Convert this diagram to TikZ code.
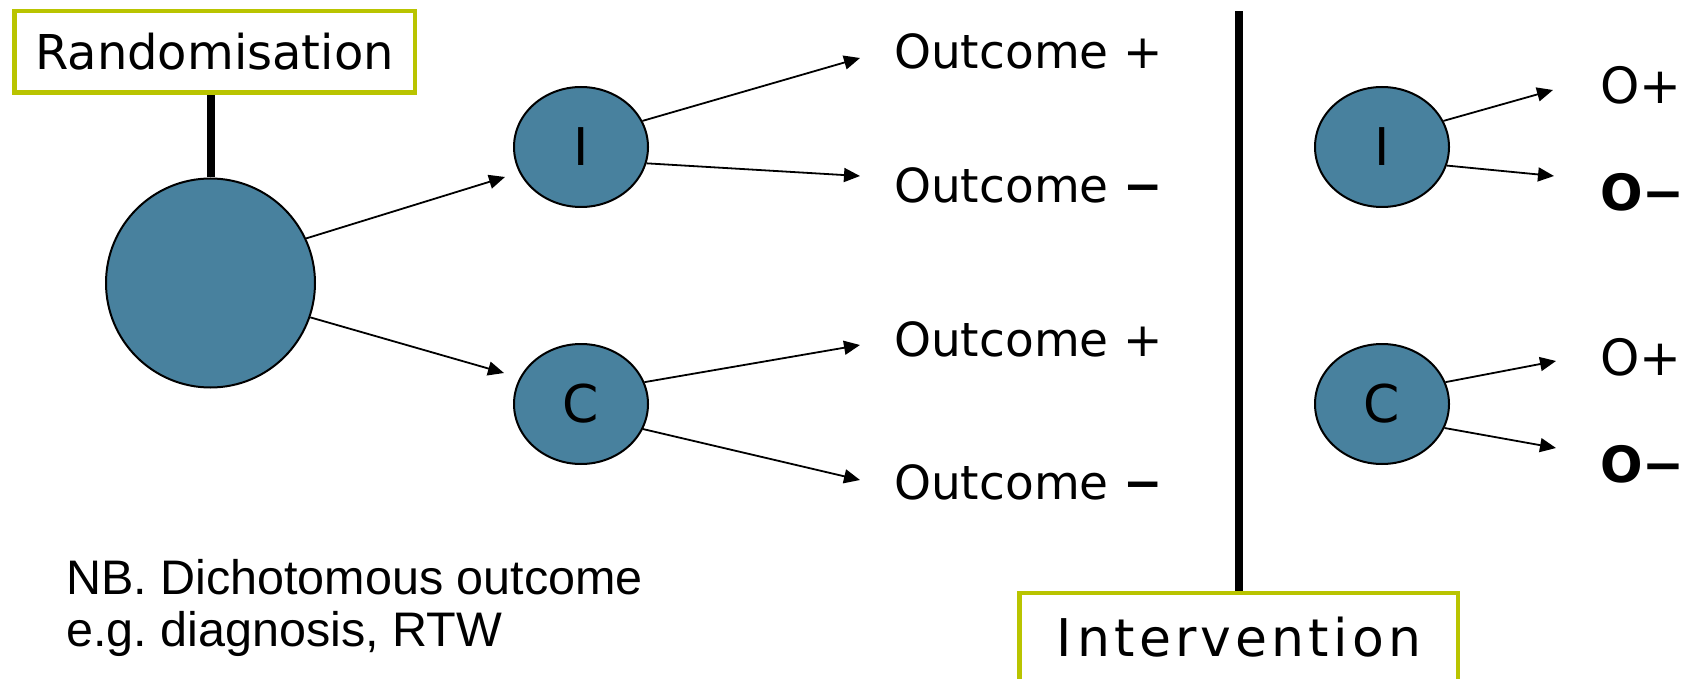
\documentclass[tikz,border=0pt]{standalone}
\usepackage{fontspec}
\setmainfont{DejaVu Sans}
\newfontfamily\notefont{Liberation Sans}
\newfontfamily\spacedfont[LetterSpace=8]{DejaVu Sans}
\usetikzlibrary{arrows.meta,shapes.geometric}
\definecolor{groupblue}{RGB}{72,129,158}
\definecolor{labelgreen}{RGB}{185,196,0}
\newcommand{\fsLabel}{\fontsize{48pt}{56pt}\selectfont}
\newcommand{\fsOut}{\fontsize{47pt}{56pt}\selectfont}
\newcommand{\fsShort}{\fontsize{50pt}{58pt}\selectfont}
\newcommand{\fsNote}{\fontsize{48.5pt}{52pt}\selectfont}
\frenchspacing
\begin{document}
\begin{tikzpicture}[x=1pt,y=-1pt,
  labelbox/.style={draw=labelgreen,line width=4.5pt,fill=white,inner sep=0pt},
  group/.style={ellipse,draw=black,line width=2pt,fill=groupblue,inner sep=0pt,
    minimum width=134pt,minimum height=120pt,font=\fontsize{52pt}{60pt}\selectfont},
  link/.style={line width=1.8pt,-{Triangle[length=16pt,width=14pt]}},
  bar/.style={line width=8pt},
  outtext/.style={anchor=base west,inner sep=0pt,font=\fsOut},
  shorttext/.style={anchor=base west,inner sep=0pt,font=\fsShort},
  notetext/.style={anchor=base west,inner sep=0pt,font=\notefont\fsNote}]
\useasboundingbox (0,0) rectangle (1690,679);

% headings
\node[labelbox,minimum width=400.5pt,minimum height=81.5pt,font=\fsLabel]
  (rand) at (214.5,52) {Randomisation};
\node[labelbox,minimum width=438.5pt,minimum height=88.75pt,
  font=\spacedfont\fontsize{52pt}{60pt}\selectfont]
  (inter) at (1238.5,637.6) {I\hspace{6pt}ntervention};

% population and the two arms
\node[circle,draw=black,line width=2pt,fill=groupblue,inner sep=0pt,
  minimum size=209pt] (big) at (210.5,283) {};
\node[group] (iL) at (581,147) {I};
\node[group] (cL) at (581,404) {C};
\node[group] (iR) at (1382,147) {I};
\node[group] (cR) at (1382,404) {C};

% vertical bars
\coordinate (divtop) at (1238.5,11);
\draw[bar] (big.north) -- (big.north |- rand.south);
\draw[bar] (inter.north) -- (divtop);

% outcome labels
\node[outtext] (oIp) at (894,69) {Outcome +};
\node[outtext] (oIm) at (894,203) {Outcome {\bfseries −}};
\node[outtext] (oCp) at (894,356) {Outcome +};
\node[outtext] (oCm) at (894,499) {Outcome {\bfseries −}};
\node[shorttext] (sIp) at (1600,104) {O+};
\node[shorttext] (sIm) at (1600,211) {\bfseries O−};
\node[shorttext] (sCp) at (1600,375) {O+};
\node[shorttext] (sCm) at (1600,482) {\bfseries O−};

% arrow tips
\coordinate (tI) at (505,177);
\coordinate (tC) at (504,373);
\coordinate (tIp) at (860,58);
\coordinate (tIm) at (860,176);
\coordinate (tCp) at (860,345);
\coordinate (tCm) at (860,480);
\coordinate (rIp) at (1553,90);
\coordinate (rIm) at (1554,176);
\coordinate (rCp) at (1556,361);
\coordinate (rCm) at (1556,448);

% arrows
\draw[link] (big.25) -- (tI);
\draw[link] (big.-19) -- (tC);
\draw[link] (iL.23) -- (tIp);
\draw[link] (iL.-14) -- (tIm);
\draw[link] (cL.19) -- (tCp);
\draw[link] (cL.-22) -- (tCm);
\draw[link] (iR.23) -- (rIp);
\draw[link] (iR.-16) -- (rIm);
\draw[link] (cR.19) -- (rCp);
\draw[link] (cR.-21) -- (rCm);

% note
\node[notetext] (nb1) at (66,594) {NB. Dichotomous outcome};
\node[notetext] (nb2) at (66,646) {e.g. diagnosis, RTW};
\end{tikzpicture}
\end{document}
